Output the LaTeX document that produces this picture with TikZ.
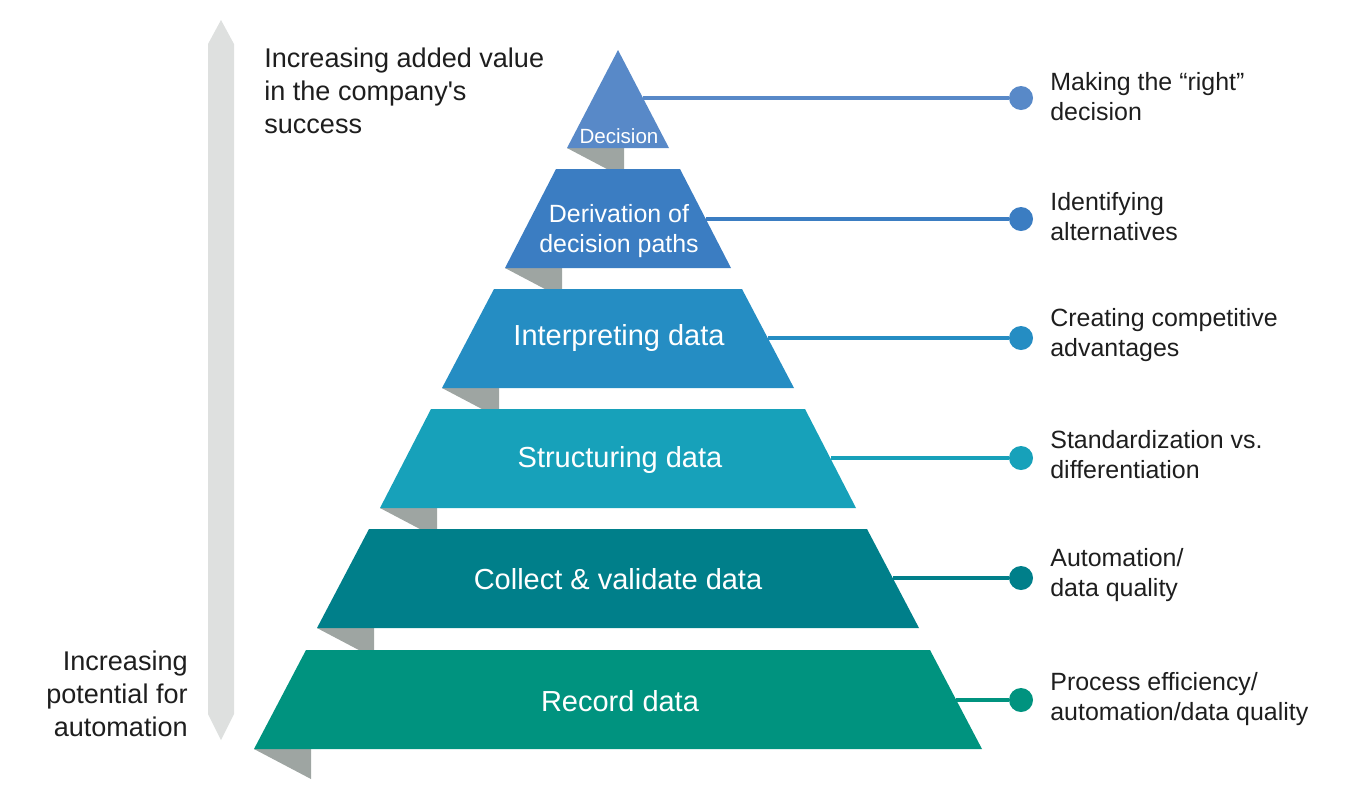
\documentclass[tikz,border=0pt]{standalone}
\usepackage{fontspec}
\setmainfont{Liberation Sans}
\definecolor{decblue}{HTML}{5889C8}
\definecolor{pathblue}{HTML}{3B7DC2}
\definecolor{interblue}{HTML}{258DC3}
\definecolor{structcyan}{HTML}{17A1BA}
\definecolor{collteal}{HTML}{007F8A}
\definecolor{recgreen}{HTML}{00937F}
\definecolor{foldgray}{HTML}{9EA5A2}
\definecolor{arrowgray}{HTML}{DEE0DF}
\definecolor{txtgray}{HTML}{1E1E1E}
\begin{document}
\begin{tikzpicture}[x=0.02cm,y=-0.02cm,
  fold/.style={fill=foldgray},
  lvl/.style={text=white,inner sep=0pt,align=center,font=\fontsize{16.5}{17.1}\selectfont},
  note/.style={anchor=west,inner sep=0pt,align=left,text=txtgray,font=\fontsize{14.2}{17.1}\selectfont},
  side/.style={inner sep=0pt,text=txtgray,font=\fontsize{15.4}{18.8}\selectfont},
  dot/.style={circle,fill=#1,inner sep=0pt,minimum size=0.48cm},
  link/.style={draw=#1,line width=2.2pt}]
\useasboundingbox (0,0) rectangle (1355,799);
% value / automation arrow
\fill[arrowgray] (221,20)--(234,44)--(234,714)--(221,740)--(208,714)--(208,44)--cycle;
\node[side,anchor=west,align=left] (value) at (264,91)
  {Increasing added value\\in the company\textquotesingle s\\success};
\node[side,anchor=east,align=right] (auto) at (188,694)
  {Increasing\\potential for\\automation};
% folds behind the levels
\fill[fold] (567,148)--(624,148)--(624,178)--cycle;
\fill[fold] (505,268)--(562,268)--(562,298)--cycle;
\fill[fold] (442,388)--(499,388)--(499,418)--cycle;
\fill[fold] (380,508)--(437,508)--(437,538)--cycle;
\fill[fold] (317,628)--(374,628)--(374,658)--cycle;
\fill[fold] (254,749)--(311,749)--(311,779)--cycle;
% levels
\fill[decblue] (618,50)--(669,148)--(567,148)--cycle;
\fill[pathblue] (556,169)--(680,169)--(731,268)--(505,268)--cycle;
\fill[interblue] (494,289)--(742,289)--(794,388)--(442,388)--cycle;
\fill[structcyan] (431,409)--(805,409)--(856,508)--(380,508)--cycle;
\fill[collteal] (369,529)--(867,529)--(919,628)--(317,628)--cycle;
\fill[recgreen] (306,650)--(930,650)--(982,749)--(254,749)--cycle;
\node[lvl,font=\fontsize{11.7}{14}\selectfont] (dec) at (619,136) {Decision};
\node[lvl,font=\fontsize{14.2}{17.1}\selectfont] (path) at (619,231) {Derivation of\\decision paths};
\node[lvl] (inter) at (619,338) {Interpreting data};
\node[lvl] (struct) at (620,460) {Structuring data};
\node[lvl] (coll) at (618,579) {Collect \& validate data};
\node[lvl] (rec) at (620,701) {Record data};
% connectors
\coordinate (s1) at (643,98);
\coordinate (s2) at (706,219);
\coordinate (s3) at (768,338);
\coordinate (s4) at (831,458);
\coordinate (s5) at (893,578);
\coordinate (s6) at (956,700);
\node[dot=decblue] (d1) at (1021,98) {};
\node[dot=pathblue] (d2) at (1021,219) {};
\node[dot=interblue] (d3) at (1021,338) {};
\node[dot=structcyan] (d4) at (1021,458) {};
\node[dot=collteal] (d5) at (1021,578) {};
\node[dot=recgreen] (d6) at (1021,700) {};
\draw[link=decblue] (s1)--(d1);
\draw[link=pathblue] (s2)--(d2);
\draw[link=interblue] (s3)--(d3);
\draw[link=structcyan] (s4)--(d4);
\draw[link=collteal] (s5)--(d5);
\draw[link=recgreen] (s6)--(d6);
\node[note] (n1) at (1050,97) {Making the “right”\\decision};
\node[note] (n2) at (1050,217) {Identifying\\alternatives};
\node[note] (n3) at (1050,335) {Creating competitive\\advantages};
\node[note] (n4) at (1050,455) {Standardization vs.\\differentiation};
\node[note] (n5) at (1050,575) {Automation/\\data quality};
\node[note] (n6) at (1050,699) {Process efficiency/\\automation/data quality};
\end{tikzpicture}
\end{document}
